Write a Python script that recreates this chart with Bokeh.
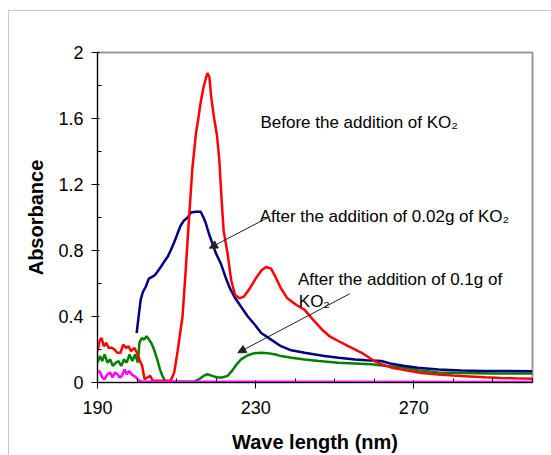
from bokeh.plotting import figure
from bokeh.models import Range1d, FixedTicker, Label, Arrow, NormalHead, InlineStyleSheet
from bokeh.embed import file_html
from bokeh.resources import INLINE

# ---------------- data ----------------
before_x = [190, 190.5, 191.0, 191.6, 192.2, 192.8, 193.6, 194.3, 195.0, 195.8, 196.5, 197.2,
            197.8, 198.5, 199.3, 200.0, 200.6, 201.3, 201.9, 202.6, 203.3, 204.0, 205.0, 206.5,
            208.5, 209.4, 210.2, 210.9, 211.5, 212.3, 213.1, 214.0, 214.9, 215.5, 216.1, 216.9,
            217.8, 218.3, 218.8, 219.5, 220.2, 220.8, 221.4, 221.9, 222.4, 222.9, 223.8, 224.8,
            225.9, 227.0, 228.5, 230.0, 231.5, 232.6, 233.9, 235.0, 236.4, 238.0, 240.3, 242.4,
            244.9, 246.8, 248.7, 251.0, 253.4, 256.8, 260.0, 262.0, 264.4, 267.0, 269.4, 272.0,
            276.2, 280.0, 284.0, 288.0, 292.0, 296.0, 300.0]
before_y = [0.19, 0.25, 0.27, 0.22, 0.24, 0.21, 0.21, 0.20, 0.18, 0.18, 0.23, 0.21,
            0.22, 0.19, 0.21, 0.18, 0.14, 0.10, 0.02, 0.03, 0.04, 0.01, 0.01, 0.01,
            0.01, 0.06, 0.18, 0.30, 0.40, 0.68, 0.98, 1.30, 1.51, 1.60, 1.70, 1.80,
            1.875, 1.85, 1.72, 1.60, 1.50, 1.35, 1.10, 0.92, 0.85, 0.78, 0.62, 0.53,
            0.51, 0.52, 0.57, 0.63, 0.68, 0.70, 0.69, 0.64, 0.57, 0.51, 0.47, 0.44,
            0.37, 0.32, 0.28, 0.25, 0.22, 0.18, 0.13, 0.11, 0.09, 0.078, 0.068, 0.058,
            0.048, 0.042, 0.037, 0.032, 0.028, 0.025, 0.022]

g002_x = [199.9, 200.3, 200.9, 201.5, 202.2, 203.0, 203.8, 204.5, 205.1, 206.0, 206.8, 207.7,
          208.5, 209.4, 210.2, 211.0, 211.8, 212.8, 213.6, 214.8, 216.1, 216.8, 217.4, 218.2,
          219.1, 220.0, 221.2, 222.5, 223.5, 224.6, 226.0, 228.0, 229.8, 231.4, 233.9, 236.4,
          239.0, 242.4, 245.0, 247.4, 251.0, 255.1, 258.0, 261.8, 264.0, 267.7, 271.0, 276.2,
          282.0, 288.0, 294.0, 300.0]
g002_y = [0.30, 0.38, 0.50, 0.55, 0.58, 0.63, 0.64, 0.65, 0.67, 0.70, 0.73, 0.76,
          0.80, 0.85, 0.90, 0.95, 0.98, 1.00, 1.03, 1.035, 1.035, 1.00, 0.965, 0.90,
          0.84, 0.78, 0.72, 0.63, 0.57, 0.52, 0.47, 0.40, 0.35, 0.30, 0.26, 0.22,
          0.195, 0.18, 0.17, 0.16, 0.15, 0.14, 0.135, 0.13, 0.115, 0.10, 0.09, 0.079,
          0.072, 0.07, 0.07, 0.068]

g01_x = [190, 190.6, 191.2, 191.8, 192.5, 193.2, 193.9, 194.6, 195.3, 196.0, 196.7, 197.4,
         198.1, 198.8, 199.5, 200.2, 200.6, 201.2, 201.8, 202.4, 203.0, 203.6, 204.3, 205.1,
         205.8, 206.4, 207.2, 214.5, 215.7, 216.8, 217.8, 219.0, 220.3, 221.5, 222.9, 224.0,
         225.2, 226.3, 228.0, 229.7, 231.5, 233.1, 235.0, 236.4, 239.0, 242.4, 246.0, 250.8,
         255.0, 259.3, 263.0, 267.7, 271.0, 276.2, 282.0, 290.0, 300.0]
g01_y = [0.12, 0.16, 0.13, 0.17, 0.12, 0.14, 0.10, 0.12, 0.13, 0.10, 0.14, 0.12,
         0.17, 0.13, 0.17, 0.12, 0.24, 0.27, 0.26, 0.28, 0.26, 0.24, 0.20, 0.14,
         0.08, 0.04, 0.005, 0.005, 0.02, 0.04, 0.05, 0.04, 0.03, 0.03, 0.04, 0.07,
         0.11, 0.14, 0.165, 0.178, 0.18, 0.178, 0.17, 0.16, 0.15, 0.14, 0.13, 0.12,
         0.115, 0.11, 0.10, 0.09, 0.075, 0.06, 0.057, 0.055, 0.055]

base_x = [190, 190.5, 191.2, 191.8, 192.5, 193.2, 193.8, 194.4, 195.0, 195.6, 196.2, 196.8,
          197.4, 198.0, 198.6, 199.2, 199.8, 200.5, 201.5, 210.0, 300.0]
base_y = [0.06, 0.07, 0.03, 0.02, 0.05, 0.06, 0.03, 0.06, 0.05, 0.03, 0.04, 0.08,
          0.05, 0.07, 0.05, 0.04, 0.03, 0.01, 0.005, 0.005, 0.003]

x_ticks = [190, 230, 270]
x_minor = [200, 210, 220, 240, 250, 260, 280, 290, 300]
y_ticks = [0, 0.4, 0.8, 1.2, 1.6, 2]
y_tick_labels = ["0", "0.4", "0.8", "1.2", "1.6", "2"]
y_minor = [0.2, 0.6, 1.0, 1.4, 1.8]

FONT = "Liberation Sans"

outer_border = InlineStyleSheet(css="""
:host { position: relative; }
:host::after {
  content: "";
  position: absolute;
  left: 8px; top: 10px; right: -20px; bottom: -20px;
  border-left: 1px solid #c8c8c8;
  border-top: 1px solid #c8c8c8;
  pointer-events: none;
}
""")

p = figure(width=551, height=455, output_backend="svg", toolbar_location=None,
           x_range=Range1d(190, 300), y_range=Range1d(0, 2),
           min_border_left=97, min_border_right=19, min_border_top=52, min_border_bottom=72,
           background_fill_color="white", border_fill_color="white",
           stylesheets=[outer_border])
p.grid.visible = False
p.outline_line_color = "#999999"
p.outline_line_width = 2

p.xaxis.ticker = FixedTicker(ticks=x_ticks, minor_ticks=x_minor)
p.yaxis.ticker = FixedTicker(ticks=y_ticks, minor_ticks=y_minor)
p.yaxis.major_label_overrides = {float(t): s for t, s in zip(y_ticks, y_tick_labels)}

for ax in (p.xaxis[0], p.yaxis[0]):
    ax.axis_line_color = "black"
    ax.axis_line_width = 1
    ax.major_tick_line_color = "black"
    ax.minor_tick_line_color = "black"
    ax.major_tick_in = 2
    ax.major_tick_out = 6
    ax.minor_tick_in = 4
    ax.minor_tick_out = 0
    ax.major_label_text_font = FONT
    ax.major_label_text_font_size = "18px"
    ax.major_label_text_color = "black"
    ax.axis_label_text_font = FONT
    ax.axis_label_text_font_style = "bold"
    ax.axis_label_text_font_size = "20px"
    ax.axis_label_text_color = "black"

p.xaxis.axis_label = "Wave length (nm)"
p.yaxis.axis_label = "Absorbance"
p.xaxis.major_label_standoff = 12
p.yaxis.major_label_standoff = 8
p.xaxis.axis_label_standoff = 14
p.yaxis.axis_label_standoff = 8

p.line(g01_x, g01_y, line_color="#008000", line_width=2.5)
p.line(g002_x, g002_y, line_color="#000080", line_width=2.5)
p.line(before_x, before_y, line_color="#FF0000", line_width=2.5)
p.line(base_x, base_y, line_color="#FF00FF", line_width=2.5)

# annotations
for (tx, ty, txt) in [(231.2, 1.577, "Before the addition of KO\u2082"),
                      (231.0, 1.009, "After the addition of 0.02g of KO\u2082"),
                      (240.7, 0.627, "After the addition of 0.1g of"),
                      (240.9, 0.491, "KO\u2082")]:
    p.add_layout(Label(x=tx, y=ty, text=txt, text_font=FONT, text_font_size="17px",
                       text_color="black", text_baseline="alphabetic"))

for (x0, y0, x1, y1) in [(233.5, 1.005, 218.3, 0.814), (253.8, 0.538, 225.5, 0.18)]:
    p.add_layout(Arrow(x_start=x0, y_start=y0, x_end=x1, y_end=y1,
                       line_color="#222222", line_width=1,
                       end=NormalHead(size=8, fill_color="#222222", line_color="#222222")))

open("out.html", "w").write(file_html(p, INLINE))
